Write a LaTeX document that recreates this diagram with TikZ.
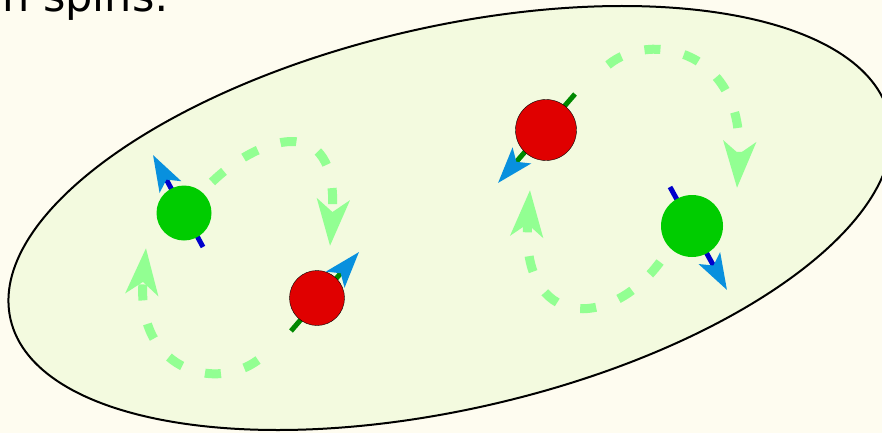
\documentclass[tikz,border=0pt]{standalone}
\usepackage{fontspec}
\setmainfont{DejaVu Sans}
\usetikzlibrary{arrows.meta}

\definecolor{bgcream}{RGB}{254,252,240}
\definecolor{blobfill}{RGB}{243,250,223}
\definecolor{flowgreen}{RGB}{146,255,146}
\definecolor{spinhead}{RGB}{8,144,222}
\definecolor{ballgreen}{RGB}{0,204,0}
\definecolor{ballred}{RGB}{224,0,0}
\definecolor{linegreen}{RGB}{0,136,0}
\definecolor{lineblue}{RGB}{0,0,204}

\tikzset{
  flow/.style={flowgreen, line width=9pt, dash pattern=on 16pt off 24pt,
    -{Stealth[length=46pt,width=32pt,inset=12pt]}},
  spin/.style={line width=5pt, -{Stealth[length=36pt,width=24pt,inset=8pt,color=spinhead]}},
  upball/.style={circle, fill=ballgreen, inner sep=0pt, minimum size=55pt},
  downball/.style={circle, fill=ballred, draw=black, thin, inner sep=0pt, minimum size=55pt},
}

\begin{document}
\begin{tikzpicture}[x=1pt,y=-1pt]
    \path[use as bounding box, fill=bgcream] (0,0) rectangle (882,433);
    \clip (0,0) rectangle (882,433);

    \node[anchor=base west, inner sep=0pt, font=\fontsize{43}{50}\selectfont] (title) at (2,12) {n spins:};

    \begin{scope}[shift={(450,218)}, rotate=13]
        \draw[fill=blobfill, line width=2pt] (0,0) ellipse [x radius=451, y radius=191];
    \end{scope}

    % exchange paths
    \coordinate (la) at (212,182); \coordinate (lb) at (330,246);
    \coordinate (lc) at (258,360); \coordinate (ld) at (146,248);
    \coordinate (ra) at (608,65);  \coordinate (rb) at (737,188);
    \coordinate (rc) at (660,262); \coordinate (rd) at (530,190);
    \draw[flow] (la) .. controls (255,140) and (340,105) .. (lb);
    \draw[flow] (lc) .. controls (215,392) and (135,370) .. (ld);
    \draw[flow] (ra) .. controls (650,30) and (745,50) .. (rb);
    \draw[flow] (rc) .. controls (610,330) and (520,330) .. (rd);

    % spins
    \coordinate (g1s) at (203,247); \coordinate (g1n) at (153,155);
    \coordinate (r1s) at (291,331); \coordinate (r1n) at (359,252);
    \coordinate (r2n) at (575,94);  \coordinate (r2s) at (498,183);
    \coordinate (g2n) at (670,187); \coordinate (g2s) at (727,290);
    \draw[spin, lineblue] (g1s) -- (g1n);
    \draw[spin, linegreen] (r1s) -- (r1n);
    \draw[spin, linegreen] (r2n) -- (r2s);
    \draw[spin, lineblue] (g2n) -- (g2s);

    \node[upball] (g1) at (184,213) {};
    \node[downball] (r1) at (317,298) {};
    \node[downball, minimum size=61pt] (r2) at (546,130) {};
    \node[upball, minimum size=62pt] (g2) at (692,226) {};
\end{tikzpicture}
\end{document}
